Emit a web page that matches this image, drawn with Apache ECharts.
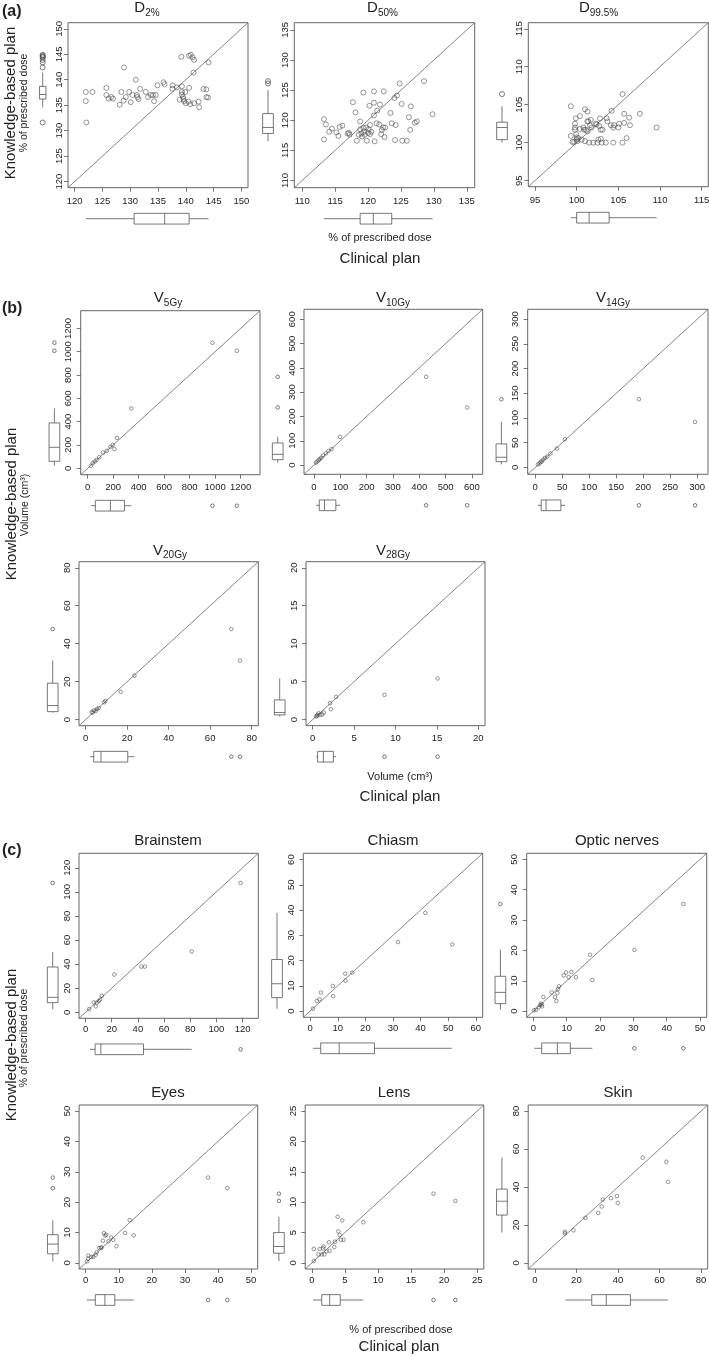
<!DOCTYPE html>
<html><head><meta charset="utf-8">
<script src="https://cdn.jsdelivr.net/npm/echarts@6/dist/echarts.min.js"></script>
<style>html,body{margin:0;padding:0;background:#fff}#c{width:709px;height:1356px}</style>
</head><body><div id="c"></div>
<script>
// ================= DATA =================
// (a) D2%
const d2Ticks = [120,125,130,135,140,145,150];
const d2Pts = [[122.0,137.6],[122.0,135.8],[122.1,131.6],[123.2,137.6],[125.7,138.4],[125.7,137.0],[126.1,136.3],[126.6,136.6],[126.9,136.3],[128.1,135.1],[128.4,137.6],[128.8,135.9],[128.9,142.4],[129.2,136.6],[129.8,137.6],[130.1,135.6],[130.4,137.0],[131.0,140.0],[131.2,137.0],[131.3,136.6],[131.5,136.2],[131.8,138.2],[132.8,137.6],[133.2,136.6],[133.7,137.0],[134.1,137.0],[134.3,135.8],[134.6,137.0],[134.9,138.9],[136.0,139.5],[136.2,139.1],[137.6,138.9],[137.6,138.2],[138.4,138.5],[138.9,136.1],[139.2,144.5],[139.3,138.7],[139.3,137.6],[139.3,137.1],[139.5,136.6],[139.6,136.2],[139.7,135.8],[139.9,137.6],[140.0,135.4],[140.5,135.7],[140.6,138.4],[140.8,135.2],[140.6,144.7],[140.9,144.9],[141.2,144.4],[141.5,143.9],[141.4,141.4],[141.5,135.4],[142.3,135.7],[142.4,134.6],[143.2,138.2],[143.7,138.1],[143.7,136.6],[144.0,136.5],[144.1,143.4]];
const d2BoxY = [134.6,136.2,137.1,138.7,141.4];
const d2OutY = [131.6,142.4,143.4,143.9,144.4,144.5,144.7,144.9];
const d2BoxX = [122.0,130.7,136.2,140.6,144.1];
const d2OutX = [];
// (a) D50%
const d50Ticks = [110,115,120,125,130,135];
const d50Pts = [[113.3,120.2],[113.3,116.8],[113.6,119.3],[114.1,118.1],[114.5,118.6],[115.2,118.0],[115.5,117.4],[115.7,118.9],[116.1,119.1],[116.9,117.8],[117.1,117.9],[117.2,117.6],[117.7,123.0],[118.1,121.3],[118.3,116.6],[118.6,117.6],[118.8,119.8],[118.8,118.5],[119.0,117.8],[119.1,117.3],[119.3,124.6],[119.3,118.7],[119.4,118.1],[119.5,117.6],[119.7,118.8],[119.8,116.6],[120.0,117.9],[120.1,118.5],[120.2,122.4],[120.3,117.7],[120.3,119.2],[120.5,118.1],[120.9,124.8],[120.9,122.9],[120.9,120.8],[121.0,116.5],[121.3,119.5],[121.4,121.6],[121.7,119.3],[121.8,122.6],[122.0,117.7],[122.1,118.4],[122.3,118.8],[122.4,124.8],[122.5,117.2],[122.6,118.8],[123.4,121.2],[123.6,119.5],[124.0,123.7],[124.1,116.7],[124.2,119.2],[124.4,124.1],[124.8,126.1],[125.1,122.7],[125.2,116.6],[125.9,116.6],[126.2,120.5],[126.4,118.4],[126.5,122.3],[127.1,119.6],[127.4,119.8],[128.5,126.5],[129.8,121.0]];
const d50BoxY = [116.5,117.8,118.8,121.1,125.0];
const d50OutY = [126.1,126.5];
const d50BoxX = [113.3,118.8,120.8,123.6,129.8];
const d50OutX = [];
// (a) D99.5%
const d995Ticks = [95,100,105,110,115];
const d995Pts = [[99.3,104.8],[99.3,100.9],[99.5,100.1],[99.7,100.1],[99.8,102.5],[99.8,102.0],[99.8,101.7],[99.9,103.2],[99.95,101.1],[100.0,100.7],[100.0,100.4],[100.1,100.2],[100.2,100.6],[100.4,103.5],[100.4,101.8],[100.6,100.4],[100.8,102.0],[100.9,101.7],[101.0,100.2],[101.0,104.4],[101.1,101.7],[101.3,104.1],[101.3,101.5],[101.3,102.8],[101.4,102.8],[101.5,100.0],[101.6,102.3],[101.7,103.0],[101.8,102.0],[102.0,100.0],[102.3,102.5],[102.4,102.4],[102.5,100.0],[102.6,100.4],[102.7,102.2],[102.8,103.2],[102.9,101.7],[102.9,100.5],[103.0,100.0],[103.1,101.7],[103.5,100.0],[103.6,103.2],[103.7,102.8],[104.1,102.3],[104.2,104.2],[104.4,100.0],[104.4,102.0],[104.5,102.3],[105.0,102.0],[105.1,102.5],[105.5,106.4],[105.5,100.0],[105.7,103.8],[105.7,102.6],[106.0,100.6],[106.3,103.3],[106.4,102.3],[107.6,103.8],[109.6,102.0]];
const d995BoxY = [100.0,100.4,102.0,102.7,104.8];
const d995OutY = [106.4];
const d995BoxX = [99.3,100.0,101.5,103.9,109.6];
const d995OutX = [];
// (b) V5Gy
const v5Ticks = [0,200,400,600,800,1000,1200];
const v5Pts = [[25,22],[40,45],[55,58],[70,72],[90,95],[120,135],[150,150],[178,184],[195,200],[210,165],[230,261],[342,514],[979,1077],[1170,1008]];
const v5BoxY = [22,60,180,389,514];
const v5OutY = [1008,1077];
const v5BoxX = [25,60,178,288,342];
const v5OutX = [979,1170];
// (b) V10Gy
const v10Ticks = [0,100,200,300,400,500,600];
const v10Pts = [[8,10],[12,15],[18,20],[22,25],[28,30],[35,40],[45,48],[55,58],[67,66],[99,116],[426,363],[582,237]];
const v10BoxY = [10,22,44,91,116];
const v10OutY = [237,363];
const v10BoxX = [8,20,40,83,99];
const v10OutX = [426,582];
// (b) V14Gy
const v14Ticks = [0,50,100,150,200,250,300];
const v14Pts = [[5,6],[8,8],[10,11],[12,12],[15,16],[18,19],[22,22],[28,28],[40,38],[55,57],[192,138],[296,92]];
const v14BoxY = [6,11.5,20.5,47.5,92.3];
const v14OutY = [138];
const v14BoxX = [5,11,20,47.5,55];
const v14OutX = [192,296];
// (b) V20Gy
const v20Ticks = [0,20,40,60,80];
const v20Pts = [[2.9,3.9],[3.5,3.8],[4.0,4.9],[4.8,4.6],[5.5,5.6],[6.3,6.1],[8.9,9.1],[9.5,9.8],[16.9,14.7],[23.5,23.2],[70.2,47.7],[74.4,31.1]];
const v20BoxY = [3.7,4.2,7.4,19.2,31.1];
const v20OutY = [47.7];
const v20BoxX = [2.1,3.9,7.4,20.3,23.5];
const v20OutX = [70.2,74.4];
// (b) V28Gy
const v28Ticks = [0,5,10,15,20];
const v28Pts = [[0.44,0.40],[0.5,0.5],[0.6,0.62],[0.72,0.84],[0.92,0.62],[1.15,0.70],[1.35,0.93],[2.1,2.16],[2.2,1.37],[2.83,3.0],[8.67,3.26],[15.08,5.42]];
const v28BoxY = [0.4,0.62,0.93,2.6,5.42];
const v28OutY = [];
const v28BoxX = [0.44,0.6,1.3,2.5,2.83];
const v28OutX = [8.67,15.08];
// (c) Brainstem
const bsTicks = [0,20,40,60,80,100,120];
const bsPts = [[2.8,2.7],[6.2,8.2],[7.8,4.9],[8.5,8.0],[10.1,9.3],[11.1,10.4],[12.4,13.7],[22.0,31.3],[42.7,37.9],[45.3,37.9],[81.1,50.5],[118.5,107.4]];
const bsBoxY = [2.7,8.0,12.4,37.6,50.0];
const bsOutY = [107.4];
const bsBoxX = [3.4,7.3,11.7,44.3,81.1];
const bsOutX = [118.5];
// (c) Chiasm
const chTicks = [0,10,20,30,40,50,60];
const chPts = [[1.0,0.9],[2.4,4.0],[3.4,4.6],[3.9,7.3],[8.2,9.9],[8.3,5.9],[12.7,14.8],[12.8,12.0],[15.2,15.2],[31.8,27.3],[41.7,38.9],[51.5,26.4]];
const chBoxY = [0.9,5.3,10.8,20.4,38.9];
const chOutY = [];
const chBoxX = [1.0,3.8,10.5,23.3,51.3];
const chOutX = [];
// (c) Optic nerves
const onTicks = [0,10,20,30,40,50];
const onPts = [[0.2,0.3],[0.8,0.5],[1.6,1.3],[2.0,2.0],[2.3,2.5],[2.6,2.2],[2.6,1.6],[3.0,4.7],[5.5,6.2],[6.5,4.7],[6.9,3.4],[7.2,6.0],[7.4,7.3],[7.7,8.2],[9.1,11.8],[9.8,12.8],[10.6,11.2],[11.4,12.9],[12.8,11.2],[17.0,18.6],[17.7,10.3],[30.3,20.2],[45.0,35.3]];
const onBoxY = [0.5,2.5,6.2,11.5,20.2];
const onOutY = [35.3];
const onBoxX = [0.3,2.5,7.2,11.1,17.7];
const onOutX = [30.3,45.0];
// (c) Eyes
const eyTicks = [0,10,20,30,40,50];
const eyPts = [[0.4,0.5],[0.7,1.4],[0.8,2.4],[1.7,2.0],[2.3,2.0],[3.0,2.7],[3.3,3.5],[4.1,4.9],[4.6,5.0],[4.8,5.1],[5.2,7.3],[5.5,9.8],[5.9,9.0],[6.2,9.3],[6.9,7.1],[7.7,8.4],[8.3,7.6],[9.3,5.5],[11.9,9.9],[13.3,14.1],[14.5,9.1],[37.0,28.1],[42.8,24.6]];
const eyBoxY = [0.5,3.0,6.2,9.3,14.1];
const eyOutY = [24.6,28.1];
const eyBoxX = [0.3,2.9,5.8,8.8,14.5];
const eyOutX = [37.0,42.8];
// (c) Lens
const lnTicks = [0,5,10,15,20,25];
const lnPts = [[0.3,0.3],[0.3,2.3],[1.0,1.4],[1.2,2.3],[1.5,1.4],[1.7,2.4],[1.8,2.7],[1.9,1.4],[2.2,1.9],[2.6,3.4],[2.7,2.0],[3.4,2.6],[3.5,3.5],[3.9,7.6],[4.0,5.2],[4.2,4.6],[4.4,3.8],[4.6,7.0],[4.8,3.8],[7.8,6.7],[18.4,11.4],[21.7,10.2]];
const lnBoxY = [0.3,1.6,2.7,5.0,7.6];
const lnOutY = [10.2,11.4];
const lnBoxX = [0.2,1.5,2.7,4.3,7.8];
const lnOutX = [18.4,21.7];
// (c) Skin
const skTicks = [0,20,40,60,80];
const skPts = [[14.5,15.6],[14.5,16.4],[18.6,17.2],[24.3,23.8],[30.5,26.3],[32.2,29.7],[32.7,33.4],[36.6,34.1],[39.5,35.2],[39.9,31.6],[51.9,55.5],[63.3,53.3],[64.2,42.7]];
const skBoxY = [16.0,25.2,32.5,38.9,55.5];
const skOutY = [];
const skBoxX = [14.7,27.4,34.4,46.0,64.0];
const skOutX = [];

// ================= LAYOUT =================
const FF = "'Liberation Sans', Arial, Helvetica, sans-serif";
const A = {sym:5, fs:9.5, mx:9, my:4};
const B = {sym:3.6, fs:9.5, mx:8, my:7};
const C = {sym:3.6, fs:9.5, mx:6, my:7};
const panels = [
  {...A, pts:d2Pts, ticks:d2Ticks, boxY:d2BoxY, outY:d2OutY, boxX:d2BoxX, outX:d2OutX, left:68, top:22.7, w:180, h:165, lo:118.8, hi:151.2, bwY:6.5, offY:25.3},
  {...A, pts:d50Pts, ticks:d50Ticks, boxY:d50BoxY, outY:d50OutY, boxX:d50BoxX, outX:d50OutX, left:294.3, top:22.7, w:180.4, h:165, lo:108.8, hi:136.2},
  {...A, pts:d995Pts, ticks:d995Ticks, boxY:d995BoxY, outY:d995OutY, boxX:d995BoxX, outX:d995OutX, left:528.3, top:22.7, w:180, h:164, lo:94.2, hi:115.8},
  {...B, pts:v5Pts, ticks:v5Ticks, boxY:v5BoxY, outY:v5OutY, boxX:v5BoxX, outX:v5OutX, left:80.7, top:310.7, w:179.3, h:164, lo:-55, hi:1352},
  {...B, pts:v10Pts, ticks:v10Ticks, boxY:v10BoxY, outY:v10OutY, boxX:v10BoxX, outX:v10OutX, left:304, top:309.3, w:178.7, h:165, lo:-38, hi:641},
  {...B, pts:v14Pts, ticks:v14Ticks, boxY:v14BoxY, outY:v14OutY, boxX:v14BoxX, outX:v14OutX, left:527.7, top:309.3, w:180.3, h:165, lo:-14, hi:320},
  {...B, pts:v20Pts, ticks:v20Ticks, boxY:v20BoxY, outY:v20OutY, boxX:v20BoxX, outX:v20OutX, left:79, top:561.7, w:179.3, h:164, lo:-3.2, hi:83.2},
  {...B, pts:v28Pts, ticks:v28Ticks, boxY:v28BoxY, outY:v28OutY, boxX:v28BoxX, outX:v28OutX, left:306, top:561.7, w:179, h:164, lo:-0.8, hi:20.8},
  {...C, pts:bsPts, ticks:bsTicks, boxY:bsBoxY, outY:bsOutY, boxX:bsBoxX, outX:bsOutX, left:79, top:853.3, w:179.3, h:165, lo:-5, hi:132},
  {...C, pts:chPts, ticks:chTicks, boxY:chBoxY, outY:chOutY, boxX:chBoxX, outX:chOutX, left:303.3, top:853.3, w:179.4, h:164, lo:-2.5, hi:62.5},
  {...C, pts:onPts, ticks:onTicks, boxY:onBoxY, outY:onOutY, boxX:onBoxX, outX:onOutX, left:526.7, top:853.3, w:180, h:164, lo:-2, hi:52},
  {...C, pts:eyPts, ticks:eyTicks, boxY:eyBoxY, outY:eyOutY, boxX:eyBoxX, outX:eyOutX, left:79.1, top:1105, w:178.6, h:164, lo:-2, hi:52},
  {...C, pts:lnPts, ticks:lnTicks, boxY:lnBoxY, outY:lnOutY, boxX:lnBoxX, outX:lnOutX, left:305.2, top:1105, w:178.6, h:164, lo:-1, hi:26},
  {...C, pts:skPts, ticks:skTicks, boxY:skBoxY, outY:skOutY, boxX:skBoxX, outX:skOutX, left:528.2, top:1105, w:179.5, h:164, lo:-3.2, hi:83.2}
];

const LINE = '#555', TXT = '#222';
const grids = [], xAxes = [], yAxes = [], series = [];
panels.forEach((P, i) => {
  const bwY = P.bwY || 10.7, bwX = 10.7, offY = P.offY || 26.3, offX = 31;
  grids.push({left:P.left, top:P.top, width:P.w, height:P.h, show:true, borderColor:'#666', borderWidth:1,
    backgroundColor:'transparent', containLabel:false, outerBoundsMode:'none'});
  const ax = (isY) => ({
    type:'value', gridIndex:i, min:P.lo, max:P.hi, scale:true,
    splitLine:{show:false}, axisLine:{show:false, onZero:false},
    axisTick:{show:true, customValues:P.ticks, interval:0, length:4, lineStyle:{color:LINE, width:0.8}},
    axisLabel:{show:true, customValues:P.ticks, interval:0, fontSize:P.fs, color:TXT, fontFamily:FF,
      formatter: v => String(v),
      margin: isY ? P.my : P.mx, rotate: isY ? 90 : 0, showMinLabel:true, showMaxLabel:true, hideOverlap:false}
  });
  xAxes.push(ax(false));
  yAxes.push(ax(true));
  series.push({type:'line', xAxisIndex:i, yAxisIndex:i, data:[[P.lo,P.lo],[P.hi,P.hi]], symbol:'none',
    lineStyle:{color:'#666', width:0.8}, silent:true, z:2});
  series.push({type:'scatter', xAxisIndex:i, yAxisIndex:i, data:P.pts, symbol:'circle', symbolSize:P.sym,
    itemStyle:{color:'rgba(0,0,0,0)', borderColor:'#444', borderWidth:0.7}, silent:true, z:3});
  series.push({type:'custom', xAxisIndex:i, yAxisIndex:i, coordinateSystem:'cartesian2d', clip:false, silent:true, z:4,
    data:[[P.lo,P.lo],[P.lo,P.lo]],
    renderItem:(params, api) => {
      const k = params.dataIndex;
      const base = api.coord([P.lo, P.lo]);
      const st = {stroke:LINE, lineWidth:0.8, fill:null};
      const ln = (x1,y1,x2,y2) => ({type:'line', shape:{x1,y1,x2,y2}, style:{stroke:LINE, lineWidth:0.8}});
      const ch = [];
      const r = P.sym/2;
      if (k === 0) {
        const cx = base[0] - offY, hw = bwY/2;
        const py = v => api.coord([P.lo, v])[1];
        const [mn,q1,md,q3,mx] = P.boxY;
        ch.push({type:'rect', shape:{x:cx-hw, y:py(q3), width:2*hw, height:py(q1)-py(q3)}, style:{...st}});
        ch.push(ln(cx-hw, py(md), cx+hw, py(md)));
        ch.push(ln(cx, py(q3), cx, py(mx)));
        ch.push(ln(cx, py(q1), cx, py(mn)));
        P.outY.forEach(o => ch.push({type:'circle', shape:{cx:cx, cy:py(o), r:r}, style:{stroke:'#444', lineWidth:0.7, fill:null}}));
      } else {
        const cy = base[1] + offX, hh = bwX/2;
        const px = v => api.coord([v, P.lo])[0];
        const [mn,q1,md,q3,mx] = P.boxX;
        ch.push({type:'rect', shape:{x:px(q1), y:cy-hh, width:px(q3)-px(q1), height:2*hh}, style:{...st}});
        ch.push(ln(px(md), cy-hh, px(md), cy+hh));
        ch.push(ln(px(q1), cy, px(mn), cy));
        ch.push(ln(px(q3), cy, px(mx), cy));
        P.outX.forEach(o => ch.push({type:'circle', shape:{cx:px(o), cy:cy, r:r}, style:{stroke:'#444', lineWidth:0.7, fill:null}}));
      }
      return {type:'group', children:ch};
    }
  });
});

// ================= TEXT =================
const cvs = document.createElement('canvas').getContext('2d');
function tw(t, size){ cvs.font = size + 'px ' + FF; return cvs.measureText(t).width; }
const gEls = [];
function txt(t, x, y, size, opts) {
  opts = opts || {};
  gEls.push({type:'text', x:x, y:y, rotation: opts.rot || 0, silent:true, z:10,
    style:{text:t, fontSize:size, fontFamily:FF, fontWeight: opts.bold ? 'bold' : 'normal', fill:TXT,
      align: opts.align || 'center', verticalAlign:'middle'}});
}
const subTitles = [
  {m:'D', s:'2%', cx:147, cy:8}, {m:'D', s:'50%', cx:382.5, cy:8}, {m:'D', s:'99.5%', cx:598.5, cy:8},
  {m:'V', s:'5Gy', cx:168, cy:298}, {m:'V', s:'10Gy', cx:393, cy:298}, {m:'V', s:'14Gy', cx:613, cy:298},
  {m:'V', s:'20Gy', cx:170, cy:550.5}, {m:'V', s:'28Gy', cx:393, cy:550.5}
];
subTitles.forEach(T => {
  const w1 = tw(T.m, 15), w2 = tw(T.s, 10);
  const x0 = T.cx - (w1 + w2)/2;
  txt(T.m, x0, T.cy, 15, {align:'left'});
  txt(T.s, x0 + w1, T.cy + 5, 10, {align:'left'});
});
[['Brainstem',168,840.7],['Chiasm',393,840.7],['Optic nerves',617,840.7],['Eyes',168,1093.3],['Lens',394,1093.3],['Skin',618,1093.3]]
  .forEach(t => txt(t[0], t[1], t[2], 15));
txt('(a)', 2, 12, 16, {bold:true, align:'left'});
txt('(b)', 2, 309, 16, {bold:true, align:'left'});
txt('(c)', 2, 851, 16, {bold:true, align:'left'});
const R = Math.PI/2;
txt('Knowledge-based plan', 11, 103, 15, {rot:R});
txt('% of prescribed dose', 24, 103, 10.5, {rot:R});
txt('Knowledge-based plan', 12, 504, 15, {rot:R});
txt('Volume (cm\u00b3)', 25, 505, 10.5, {rot:R});
txt('Knowledge-based plan', 12, 1045, 15, {rot:R});
txt('% of prescribed dose', 24, 1038, 10.5, {rot:R});
txt('% of prescribed dose', 380, 238, 11);
txt('Clinical plan', 380, 259, 15);
txt('Volume (cm\u00b3)', 400, 777, 11);
txt('Clinical plan', 400, 797, 15);
txt('% of prescribed dose', 401, 1330, 11);
txt('Clinical plan', 399, 1347, 15);

const chart = echarts.init(document.getElementById('c'), null, {renderer:'canvas'});
chart.setOption({
  animation:false, backgroundColor:'#fff',
  grid:grids, xAxis:xAxes, yAxis:yAxes, series:series,
  graphic:{elements:gEls}
});
</script></body></html>
